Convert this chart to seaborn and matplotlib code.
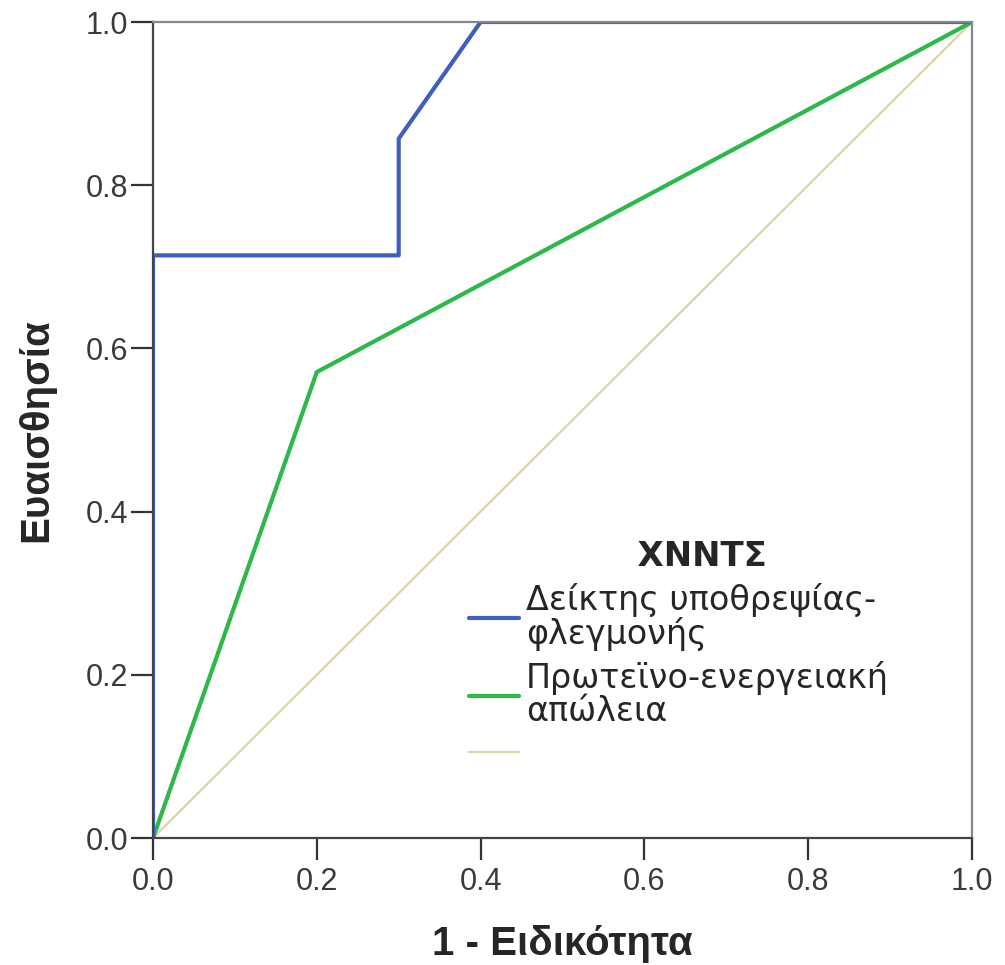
import matplotlib
matplotlib.use("Agg")
import matplotlib.pyplot as plt
import seaborn as sns
import pandas as pd
from matplotlib.lines import Line2D
from matplotlib.font_manager import FontProperties

# Data
blue_fpr = [0.0, 0.0, 0.3, 0.3, 0.4, 1.0]
blue_tpr = [0.0, 0.714, 0.714, 0.857, 1.0, 1.0]
green_fpr = [0.0, 0.2, 1.0]
green_tpr = [0.0, 0.571, 1.0]
ref_fpr = [0.0, 1.0]
ref_tpr = [0.0, 1.0]
series_labels = ["Δείκτης υποθρεψίας-\nφλεγμονής", "Πρωτεϊνο-ενεργειακή\nαπώλεια", ""]
legend_title = "ΧΝΝΤΣ"
xlabel = "1 - Ειδικότητα"
ylabel = "Ευαισθησία"
ticks = [0.0, 0.2, 0.4, 0.6, 0.8, 1.0]
tick_labels = ["0.0", "0.2", "0.4", "0.6", "0.8", "1.0"]

sns.set_style("white")
plt.rcParams['font.family'] = ['Liberation Sans', 'DejaVu Sans']

c_blue = "#3F5FBE"
c_green = "#2DB84A"
c_ref = "#DAD6A6"

fig = plt.figure(figsize=(10.05, 9.65), dpi=100)
ax = fig.add_axes([153/1005, 1-838/965, (972-153)/1005, (838-22)/965])

df_ref = pd.DataFrame({"x": ref_fpr, "y": ref_tpr})
df_g = pd.DataFrame({"x": green_fpr, "y": green_tpr})
df_b = pd.DataFrame({"x": blue_fpr, "y": blue_tpr})

sns.lineplot(data=df_ref, x="x", y="y", sort=False, estimator=None, color=c_ref, lw=1.6, ax=ax)
sns.lineplot(data=df_g, x="x", y="y", sort=False, estimator=None, color=c_green, lw=3.0, ax=ax)
sns.lineplot(data=df_b, x="x", y="y", sort=False, estimator=None, color=c_blue, lw=3.0, ax=ax)

ax.set_xlim(0, 1)
ax.set_ylim(0, 1)
ax.set_xticks(ticks)
ax.set_xticklabels(tick_labels)
ax.set_yticks(ticks)
ax.set_yticklabels(tick_labels)
ax.tick_params(axis='both', which='major', direction='out', length=16, width=1.6,
               color="#333333", labelsize=22, labelcolor="#3a3a3a",
               bottom=True, left=True, top=False, right=False)
ax.tick_params(axis='x', pad=5)
ax.tick_params(axis='y', pad=2)

for name, sp in ax.spines.items():
    sp.set_visible(True)
    sp.set_linewidth(1.6)
    sp.set_color("#444444" if name in ("left", "bottom") else "#888888")

ax.set_xlabel(xlabel, fontsize=29, fontweight='bold', labelpad=20)
ax.set_ylabel(ylabel, fontsize=29, fontweight='bold', labelpad=22)

handles = [Line2D([], [], color=c_blue, lw=3.0),
           Line2D([], [], color=c_green, lw=3.0),
           Line2D([], [], color=c_ref, lw=1.6)]
leg_font = FontProperties(family='DejaVu Sans', size=24)
title_font = FontProperties(family='DejaVu Sans', size=24.5, weight='bold')
leg = ax.legend(handles, series_labels, title="    " + legend_title, loc='upper left',
                bbox_to_anchor=(452/1005, 1-523/965), bbox_transform=fig.transFigure,
                frameon=False, prop=leg_font, title_fontproperties=title_font,
                handlelength=1.5, handletextpad=0.22, labelspacing=0.3, borderpad=0)
for t in leg.get_texts():
    t.set_linespacing(1.0)

fig.savefig("out.png", dpi=100)
